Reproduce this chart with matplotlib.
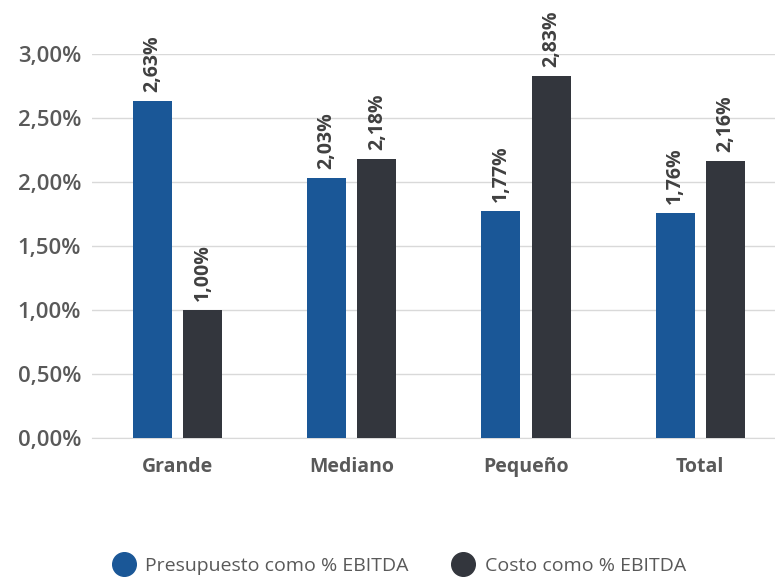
import numpy as np
import matplotlib
matplotlib.use('Agg')
import matplotlib.pyplot as plt
from matplotlib.lines import Line2D

categorias = ['Grande', 'Mediano', 'Pequeño', 'Total']
presupuesto = [2.63, 2.03, 1.77, 1.76]
costo = [1.00, 2.18, 2.83, 2.16]
series_nombres = ['Presupuesto como % EBITDA', 'Costo como % EBITDA']
colores = ['#1a5797', '#33363d']

plt.rcParams['font.family'] = ['Open Sans', 'DejaVu Sans']

fig = plt.figure(figsize=(7.75, 5.8), dpi=100)
ax = fig.add_axes([0.119, 0.245, 0.881, 0.662])

x = np.arange(len(categorias))
w = 0.224
off = 0.144
for vals, dx, col in zip([presupuesto, costo], [-off, off], colores):
    bars = ax.bar(x + dx, vals, width=w, color=col, zorder=3)
    for b, v in zip(bars, vals):
        ax.text(b.get_x() + b.get_width() / 2, v + 0.07,
                ('%.2f%%' % v).replace('.', ','), rotation=90,
                ha='center', va='bottom', fontsize=14, fontweight='bold',
                color='#404040', clip_on=False)

ax.set_xlim(-0.49, 3.43)
ax.set_ylim(0, 3.0)
ticks = np.arange(0, 3.01, 0.5)
ax.set_yticks(ticks)
ax.set_yticklabels([('%.2f%%' % t).replace('.', ',') for t in ticks],
                   fontsize=16, fontweight='semibold', color='#595959')
ax.set_xticks(x)
ax.set_xticklabels(categorias, fontsize=14, fontweight='bold', color='#595959')
ax.tick_params(axis='both', length=0)
ax.tick_params(axis='x', pad=14)
ax.tick_params(axis='y', pad=8)
ax.grid(axis='y', color='#d9d9d9', linewidth=1, zorder=0)
for s in ['top', 'right', 'left']:
    ax.spines[s].set_visible(False)
ax.spines['bottom'].set_color('#d9d9d9')

handles = [Line2D([], [], marker='o', linestyle='', markersize=17,
                  markerfacecolor=c, markeredgecolor=c) for c in colores]
fig.legend(handles, series_nombres, loc='center', bbox_to_anchor=(0.51, 0.024),
           ncol=2, frameon=False, handletextpad=0.1, columnspacing=1.8,
           prop={'family': ['Open Sans', 'DejaVu Sans'], 'size': 14})
for t in fig.legends[0].get_texts():
    t.set_color('#595959')

fig.savefig('out.png', dpi=100)
